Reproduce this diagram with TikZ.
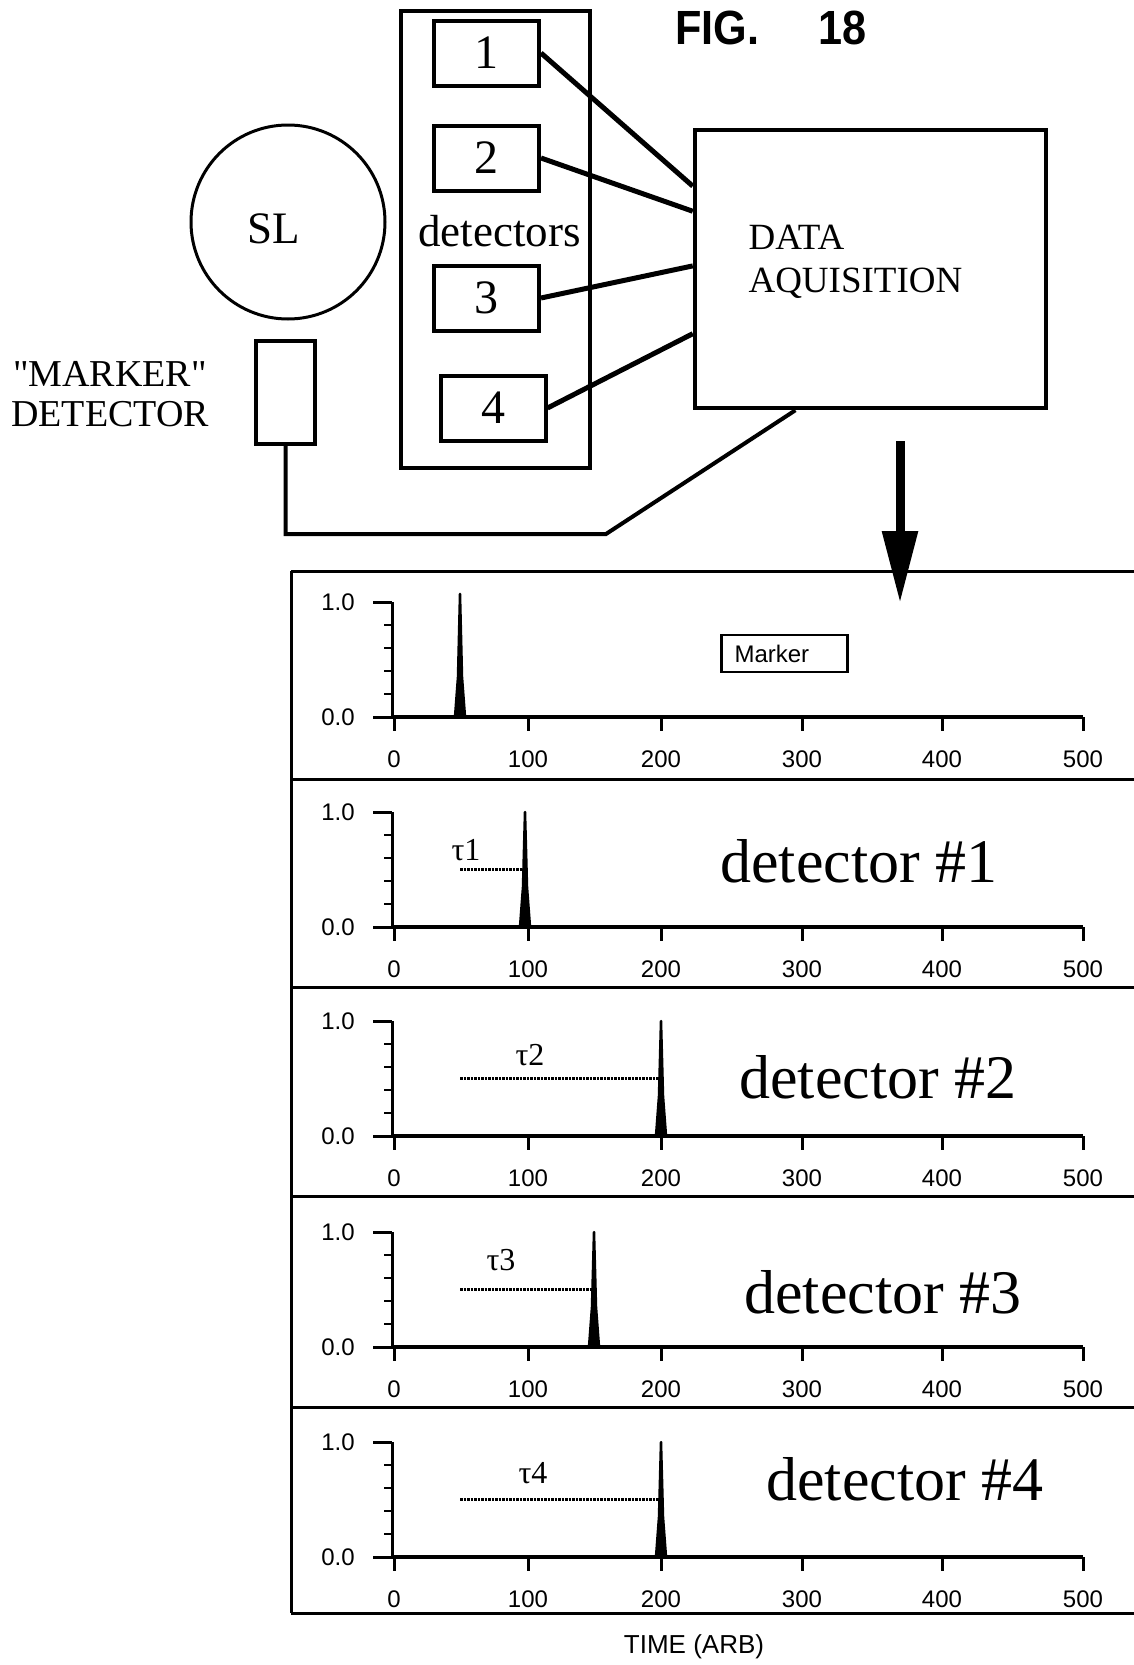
\documentclass[tikz,border=0pt]{standalone}
\usepackage{fontspec}
\setmainfont{Liberation Serif}[Ligatures=TeXOff]
\setsansfont{Liberation Sans}
\usetikzlibrary{arrows.meta}

\begin{document}
\begin{tikzpicture}[
x=1pt, y=-1pt,
detbox/.style={rectangle, draw=black, line width=4pt, minimum width=105pt, minimum height=65pt, inner sep=0pt, font=\fontsize{48}{48}\selectfont},
bigbox/.style={rectangle, draw=black, line width=3.5pt, inner sep=0pt},
wire/.style={line width=5pt},
frame_line/.style={line width=3pt},
axis_line/.style={line width=3pt},
tick_text/.style={font=\sffamily\fontsize{24}{24}\selectfont},
big_text/.style={font=\fontsize{62}{62}\selectfont, anchor=base},
tau_text/.style={font=\fontsize{32}{32}\selectfont},
peak/.style={line width=2.5pt, line join=round, fill=black},
delay/.style={densely dotted, line width=2.5pt},
down_arrow/.style={-{Triangle[length=72pt, width=34pt]}, line width=9pt}
]

\useasboundingbox (0,0) rectangle (1134,1665);

% setup
\node[font=\sffamily\bfseries\fontsize{48}{48}\selectfont, xscale=0.9](fig) at (771,28) {FIG.\hspace{66pt}18};

\node[bigbox, minimum width=189pt, minimum height=457pt](detectors) at (495.5,239.5) {};
\node[detbox](det1) at (486.5,53) {1};
\node[detbox](det2) at (486.5,158) {2};
\node[detbox](det3) at (486.5,298) {3};
\node[detbox](det4) at (493,408) {4};
\node[font=\fontsize{45}{45}\selectfont](det_label) at (499.5,231) {detectors};

\node[circle, draw=black, line width=3pt, minimum size=194pt](sl) at (288,222) {};
\node[font=\fontsize{45}{45}\selectfont](sl_text) at (274,229) {SL};

\node[bigbox, minimum width=59pt, minimum height=103pt](marker) at (285.5,392.5) {};
\node[align=center, font=\fontsize{38}{40}\selectfont](marker_text) at (110,394) {"MARKER"\\DETECTOR};

\node[bigbox, line width=4.5pt, minimum width=351pt, minimum height=278pt](daq) at (870.5,269) {};
\node[anchor=west, align=left, font=\fontsize{37}{43}\selectfont](daq_text) at (745,262) {DATA\\AQUISITION};

\draw[wire](det1.east) -- (daq.155);
\draw[wire](det2.east) -- (daq.162);
\draw[wire](det3.east) -- (daq.179);
\draw[wire](det4.east) -- (daq.200);
\coordinate (wire_bend) at (606,534);
\draw[wire, line width=4pt](marker.south) |- (wire_bend) -- (daq.242);

\coordinate (arrow_top) at (900,441);
\coordinate (arrow_tip) at (900,603);
\draw[down_arrow](arrow_top) -- (arrow_tip);

% plots
\draw[frame_line](291,571) -- (291,1613);
\foreach \ly in {571,779,987,1196,1407,1613} \draw[frame_line](291,\ly) -- (1134,\ly);

\foreach \yz/\xp/\hp in {717/460/1.07, 927/525/1, 1136/661/1, 1347/594/1, 1557/661/1}{
  \draw[axis_line] (392,\yz) -- (392,\yz-115);
  \draw[axis_line] (373,\yz) -- (392,\yz);
  \draw[axis_line] (373,\yz-115) -- (392,\yz-115);
  \foreach \m in {1,...,4} \draw[axis_line, line width=2.5pt] (384,\yz-23*\m) -- (392,\yz-23*\m);
  \node[tick_text](ylow\yz) at (338,\yz) {0.0};
  \node[tick_text](yhigh\yz) at (338,\yz-115) {1.0};
  \draw[axis_line, line width=4pt] (392,\yz) -- (1083,\yz);
  \foreach \tv/\xt in {0/394,100/528,200/661,300/802,400/942,500/1083}{
    \draw[axis_line] (\xt,\yz) -- (\xt,\yz+14);
    \node[tick_text](xlab\yz-\tv) at (\xt,\yz+42) {\tv};
  }
  \draw[peak] (\xp-5,\yz) -- (\xp-2,\yz-40) -- (\xp,\yz-115*\hp) -- (\xp+2,\yz-40) -- (\xp+5,\yz) -- cycle;
}

\node[draw=black, line width=2.5pt, text width=100pt, align=left, inner xsep=13pt, minimum height=37pt, tick_text](marker_key) at (784.5,653.5) {Marker};

\draw[delay](460,869.5) -- (525,869.5);
\draw[delay](460,1078.5) -- (661,1078.5);
\draw[delay](460,1289.5) -- (594,1289.5);
\draw[delay](460,1499.5) -- (661,1499.5);

\node[tau_text](tau1) at (466,850) {τ1};
\node[tau_text](tau2) at (530,1055) {τ2};
\node[tau_text](tau3) at (501,1260) {τ3};
\node[tau_text](tau4) at (533,1473) {τ4};

\node[big_text](plot_label1) at (859,882) {detector \#1};
\node[big_text](plot_label2) at (878,1098) {detector \#2};
\node[big_text](plot_label3) at (883,1313) {detector \#3};
\node[big_text](plot_label4) at (905,1500) {detector \#4};

\node[tick_text, font=\sffamily\fontsize{26}{26}\selectfont](time_label) at (694,1647) {TIME (ARB)};
\end{tikzpicture}
\end{document}
